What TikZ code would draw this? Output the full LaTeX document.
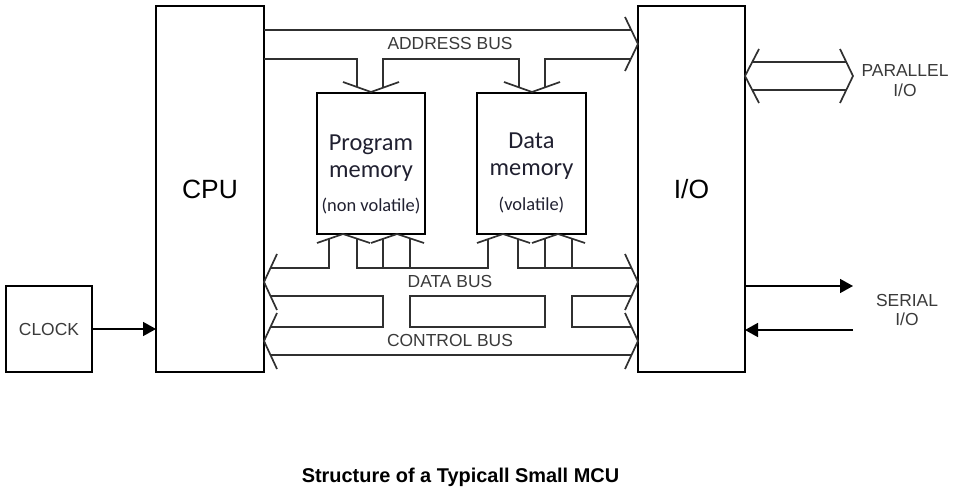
\documentclass[tikz,border=0pt]{standalone}
\usepackage{fontspec}
\setmainfont{Liberation Sans}
\newfontfamily\memfont{Carlito}
\usetikzlibrary{arrows.meta}
\definecolor{buscol}{HTML}{303030}
\definecolor{txtcol}{HTML}{3A3A3A}
\definecolor{memcol}{HTML}{202030}
\tikzset{
  blk/.style={draw=black, line width=2.6bp, inner sep=0pt, outer sep=0pt},
  bus/.style={draw=buscol, line width=1.7bp, line join=miter},
  sig/.style={draw=black, line width=1.6bp, -{Triangle[length=13bp,width=14bp]}},
  lbl/.style={text=txtcol, font=\fontsize{17.5}{20}\selectfont, align=center},
  memtxt/.style={text=memcol, font=\memfont\fontsize{24.5}{27}\selectfont, align=center, inner sep=0pt},
}
\begin{document}
\begin{tikzpicture}[x=1bp,y=-1bp]
\useasboundingbox (0,0) rectangle (957,490);
%bloques
\node[blk, minimum width=108bp, minimum height=366bp, font=\fontsize{26.5}{30}\selectfont] (cpu) at (210,189) {CPU};
\node[blk, minimum width=107bp, minimum height=366bp, font=\fontsize{26.5}{30}\selectfont] (io) at (691.5,189) {I/O};
\node[blk, minimum width=86bp, minimum height=86bp, text=txtcol, font=\fontsize{17.5}{20}\selectfont] (clk) at (49,329) {CLOCK};
\node[blk, minimum width=108bp, minimum height=141bp] (pm) at (371,163.5) {};
\node[blk, minimum width=109bp, minimum height=141bp] (dm) at (531.5,163.5) {};
\node[memtxt] (pmtxt) at (371,174.5) {Program\\memory\\[8bp]{\fontsize{18.5}{20}\selectfont (non volatile)}};
\node[memtxt] (dmtxt) at (531.5,173) {Data\\memory\\[8bp]{\fontsize{18.5}{20}\selectfont (volatile)}};
%address bus
\draw[bus] (264,30) -- (631.3,30);
\draw[bus] (264,59) -- (357,59) -- (357,87.5);
\draw[bus] (383,87.5) -- (383,59) -- (519,59) -- (519,87.5);
\draw[bus] (545,87.5) -- (545,59) -- (630.8,59);
\draw[bus] (625,17) -- (638,44) -- (625,71);
\draw[bus] (343,82) -- (371,92) -- (399,82);
\draw[bus] (504,82) -- (532,92) -- (560,82);
\node[lbl] (abus) at (450,44) {ADDRESS BUS};
%data bus
\draw[bus] (277,254) -- (264,282) -- (277,310);
\draw[bus] (625,254) -- (638,282) -- (625,310);
\draw[bus] (270.5,268) -- (329,268) -- (329,239);
\draw[bus] (357,239) -- (357,268) -- (488,268) -- (488,239);
\draw[bus] (518,239) -- (518,268) -- (631.5,268);
\draw[bus] (383,239) -- (383,268) (410,239) -- (410,268);
\draw[bus] (545,239) -- (545,268) (572,239) -- (572,268);
\draw[bus] (317,243) -- (343,234) -- (370,243);
\draw[bus] (371,243) -- (397,234) -- (424,243);
\draw[bus] (477,243) -- (503,234) -- (530,243);
\draw[bus] (532,243) -- (558,234) -- (585,243);
\node[lbl] (dbus) at (450,281) {DATA BUS};
%control bus
\draw[bus] (277,313) -- (264,341) -- (277,369);
\draw[bus] (625,313) -- (638,341) -- (625,369);
\draw[bus] (270.5,296) -- (383,296) -- (383,327) -- (270.5,327);
\draw[bus] (410,296) -- (545,296) -- (545,327) -- (410,327) -- cycle;
\draw[bus] (631.5,296) -- (572,296) -- (572,327) -- (631.5,327);
\draw[bus] (270.5,355) -- (631.5,355);
\node[lbl] (cbus) at (450,340) {CONTROL BUS};
%parallel I/O
\draw[bus] (759,49) -- (745,76) -- (759,103);
\draw[bus] (840,49) -- (853,76) -- (840,103);
\draw[bus] (752.3,62) -- (846.3,62);
\draw[bus] (752.3,90) -- (846.3,90);
\node[lbl] (par) at (905,81) {PARALLEL\\I/O};
%serial I/O
\coordinate (sout) at (853,286);
\coordinate (sin) at (853,330);
\draw[sig] (io.east |- sout) -- (sout);
\draw[sig] (sin) -- (io.east |- sin);
\node[lbl] (ser) at (907,310) {SERIAL\\I/O};
%clock
\draw[sig] (clk.east) -- (cpu.west |- clk.east);
%titulo
\node[font=\bfseries\fontsize{20}{24}\selectfont, anchor=base] (title) at (460.5,482) {Structure of a Typicall Small MCU};
\end{tikzpicture}
\end{document}
